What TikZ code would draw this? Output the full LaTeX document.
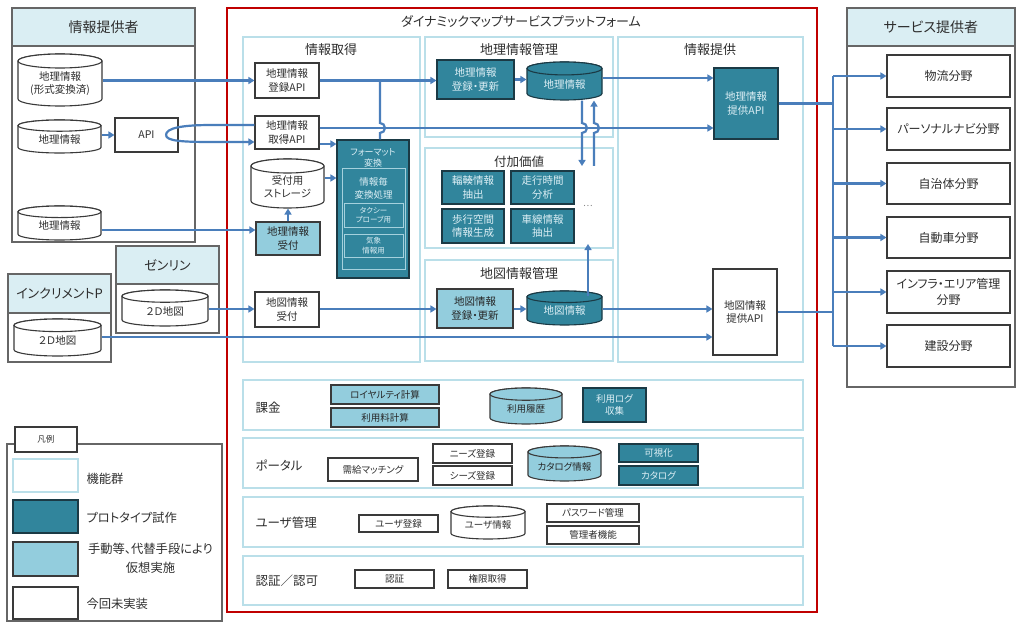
\documentclass[tikz,border=0pt]{standalone}
\usepackage{fontspec}
\setmainfont{Noto Sans CJK JP}[RawFeature=+palt]
\usetikzlibrary{arrows.meta,calc}
\definecolor{cdark}{HTML}{31859C}
\definecolor{clight}{HTML}{93CDDD}
\definecolor{cpanel}{HTML}{BADFE9}
\definecolor{chead}{HTML}{DAEEF3}
\definecolor{cline}{HTML}{4A7EBB}
\definecolor{cred}{HTML}{C00000}
\definecolor{cborder}{HTML}{3A3A3A}
\definecolor{cdborder}{HTML}{1B3A45}
\definecolor{ctxt}{HTML}{2E2E2E}
\definecolor{cdtxt}{HTML}{DDEFF5}
\newcommand\mybox[7]{\node[#6, minimum width={(#4-#2)*1pt}, minimum height={(#5-#3)*1pt}, inner sep=0pt] (#1) at ({(#2+#4)/2},{(#3+#5)/2}) {#7};}
\newcommand\mycyl[7]{%
 \pgfmathsetmacro\cylcx{(#2+#4)/2}%
 \pgfmathsetmacro\cylrx{(#4-#2)/2}%
 \pgfmathsetmacro\cylry{min(7,(#5-#3)*0.17)}%
 \pgfmathsetmacro\cylta{#3+\cylry}%
 \pgfmathsetmacro\cylbb{#5-\cylry}%
 \path[#6] (#2,\cylta) -- (#2,\cylbb) arc[start angle=180,end angle=360,x radius=\cylrx pt,y radius=\cylry pt] -- (#4,\cylta) arc[start angle=0,end angle=180,x radius=\cylrx pt,y radius=\cylry pt] -- cycle;
 \path[#6] (\cylcx,\cylta) ellipse[x radius=\cylrx pt,y radius=\cylry pt];
 \node[#6, draw=none, fill=none, minimum width={(#4-#2)*1pt}, minimum height={(#5-\cylta)*1pt}, inner sep=0pt] (#1) at (\cylcx,{(\cylta+#5)/2}) {#7};}
\begin{document}
\begin{tikzpicture}[x=1pt,y=-1pt,
 wbox/.style={draw=cborder, line width=1.1pt, fill=white, text=ctxt, align=center, font=\fontsize{10.5}{13.5}\selectfont},
 dbox/.style={wbox, fill=cdark, draw=cdborder, text=cdtxt},
 lbox/.style={wbox, fill=clight, text=black!85},
 sbox/.style={font=\fontsize{9.5}{12}\selectfont},
 svc/.style={wbox, font=\fontsize{12}{15.5}\selectfont},
 inbox/.style={draw=cpanel!85!cdark, line width=1pt, fill=none, text=cdtxt, align=center},
 panel/.style={draw=cpanel, line width=2.4pt},
 grp/.style={draw=black!60, line width=1.1pt, fill=white},
 ghead/.style={draw=black!60, line width=1.1pt, fill=chead},
 gtitle/.style={text=ctxt, font=\fontsize{14}{16}\selectfont},
 ptitle/.style={text=ctxt, font=\fontsize{13}{15}\selectfont},
 blabel/.style={text=ctxt, anchor=west, font=\fontsize{12.5}{15}\selectfont},
 ltext/.style={text=ctxt, font=\fontsize{12.3}{19}\selectfont, align=center},
 conn/.style={draw=cline, line width=2.2pt, -{Triangle[length=6pt,width=7pt]}},
 wire/.style={draw=cline, line width=2.2pt}]
\useasboundingbox (0,0) rectangle (1018,623);
\fill[white] (0,0) rectangle (1018,623);

% ---------- left: information providers ----------
\draw[grp] (12,8) rectangle (195,242);
\draw[ghead] (12,8) rectangle (195,46);
\node[gtitle] (tInfo) at (103.5,27) {情報提供者};
\mycyl{c1}{18}{54}{102}{106}{wbox}{地理情報\\(形式変換済)}
\mycyl{c2}{18}{120}{101}{153}{wbox}{地理情報}
\mybox{api}{115}{118}{178}{152}{wbox}{API}
\mycyl{c3}{18}{206}{101}{240}{wbox}{地理情報}

\draw[grp] (116,246) rectangle (219,333);
\draw[ghead] (116,246) rectangle (219,284);
\node[ptitle] (tZen) at (167.5,265) {ゼンリン};
\mycyl{cz}{122}{290}{208}{326}{wbox}{２Ｄ地図}

\draw[grp] (8,274) rectangle (111,362);
\draw[ghead] (8,274) rectangle (111,313);
\node[ptitle] (tInc) at (59.5,293.5) {インクリメントP};
\mycyl{ci}{14}{319}{101}{356}{wbox}{２Ｄ地図}

% ---------- platform ----------
\draw[cred, line width=2.6pt] (227,8) rectangle (817,612);
\node[ptitle] (tPf) at (521,21) {ダイナミックマップサービスプラットフォーム};

\draw[panel] (243,37) rectangle (420,362);
\draw[panel] (425,37) rectangle (613,137);
\draw[panel] (425,148) rectangle (613,248);
\draw[panel] (425,260) rectangle (613,361);
\draw[panel] (618,37) rectangle (803,362);
\node[ptitle] (tGet) at (331,50) {情報取得};
\node[ptitle] (tGeo) at (519,50) {地理情報管理};
\node[ptitle, font=\fontsize{12.5}{15}\selectfont] (tVal) at (519,162) {付加価値};
\node[ptitle] (tMap) at (519,274) {地図情報管理};
\node[ptitle] (tOut) at (710,50) {情報提供};

% information acquisition
\mybox{rapi}{255}{63}{319}{98}{wbox}{地理情報\\登録API}
\mybox{tapi}{255}{116}{319}{149}{wbox}{地理情報\\取得API}
\mycyl{stor}{251}{159}{324}{208}{wbox}{受付用\\ストレージ}
\mybox{uk}{256}{222}{320}{255}{lbox}{地理情報\\受付}
\mybox{fmt}{337}{140}{409}{278}{dbox}{}
\node[text=cdtxt, align=center, font=\fontsize{9}{10.5}\selectfont] (fmtT) at (373,158) {フォーマット\\変換};
\mybox{fmtIn}{342}{169}{405}{269}{inbox}{}
\node[text=cdtxt, align=center, font=\fontsize{9.5}{13}\selectfont] (fmtInT) at (373.5,188.5) {情報毎\\変換処理};
\mybox{fs1}{344}{204}{403}{227}{inbox, font=\fontsize{7.5}{9.5}\selectfont}{タクシー\\プローブ用}
\mybox{fs2}{344}{234}{403}{257}{inbox, font=\fontsize{7.5}{9.5}\selectfont}{気象\\情報用}
\mybox{mk}{255}{292}{319}{327}{wbox}{地図情報\\受付}

% geo info management
\mybox{gru}{437}{60}{514}{99}{dbox}{地理情報\\登録・更新}
\mycyl{gdb}{527}{62}{602}{100}{dbox}{地理情報}

% added value
\mybox{v1}{442}{171}{504}{204}{dbox}{輻輳情報\\抽出}
\mybox{v2}{511}{171}{574}{204}{dbox}{走行時間\\分析}
\mybox{v3}{442}{209}{504}{243}{dbox}{歩行空間\\情報生成}
\mybox{v4}{511}{209}{574}{243}{dbox}{車線情報\\抽出}
\node[text=black!50, font=\fontsize{9}{10}\selectfont] (vdots) at (588,206) {…};

% map info management
\mybox{mru}{437}{289}{513}{328}{lbox}{地図情報\\登録・更新}
\mycyl{mdb}{527}{291}{602}{325}{dbox}{地図情報}

% provision
\mybox{papi}{714}{68}{778}{139}{dbox}{地理情報\\提供API}
\mybox{mapi}{713}{269}{777}{355}{wbox}{地図情報\\提供API}

% bottom panels
\draw[panel] (243,380) rectangle (803,430);
\draw[panel] (243,438) rectangle (803,488);
\draw[panel] (243,497) rectangle (803,547);
\draw[panel] (243,556) rectangle (803,605);
\node[blabel] (lKakin) at (252,408) {課金};
\node[blabel] (lPortal) at (252,465) {ポータル};
\node[blabel] (lUser) at (252,523) {ユーザ管理};
\node[blabel] (lAuth) at (252,581) {認証／認可};

\mybox{b1}{331}{385}{439}{404}{lbox,sbox}{ロイヤルティ計算}
\mybox{b2}{331}{408}{439}{427}{lbox,sbox}{利用料計算}
\mycyl{b3}{490}{388}{562}{424}{lbox,sbox}{利用履歴}
\mybox{b4}{583}{388}{646}{422}{dbox,sbox}{利用ログ\\収集}

\mybox{p1}{328}{458}{418}{481}{wbox,sbox}{需給マッチング}
\mybox{p2}{433}{444}{512}{463}{wbox,sbox}{ニーズ登録}
\mybox{p3}{433}{466}{512}{485}{wbox,sbox}{シーズ登録}
\mycyl{p4}{528}{446}{601}{481}{lbox,sbox}{カタログ情報}
\mybox{p5}{619}{444}{698}{462}{dbox,sbox}{可視化}
\mybox{p6}{619}{466}{698}{485}{dbox,sbox}{カタログ}

\mybox{u1}{359}{515}{438}{532}{wbox,sbox}{ユーザ登録}
\mycyl{u2}{451}{506}{525}{539}{wbox,sbox}{ユーザ情報}
\mybox{u3}{547}{504}{639}{522}{wbox,sbox}{パスワード管理}
\mybox{u4}{547}{526}{639}{544}{wbox,sbox}{管理者機能}

\mybox{a1}{355}{570}{434}{588}{wbox,sbox}{認証}
\mybox{a2}{448}{570}{527}{588}{wbox,sbox}{権限取得}

% ---------- right: service providers ----------
\draw[grp] (847,8) rectangle (1015,387);
\draw[ghead] (847,8) rectangle (1015,46);
\node[gtitle] (tSvc) at (931,27) {サービス提供者};
\mybox{s1}{887}{55}{1010}{97}{svc}{物流分野}
\mybox{s2}{887}{108}{1010}{150}{svc}{パーソナルナビ分野}
\mybox{s3}{887}{163}{1010}{204}{svc}{自治体分野}
\mybox{s4}{887}{217}{1010}{258}{svc}{自動車分野}
\mybox{s5}{887}{271}{1010}{313}{svc}{インフラ・エリア管理\\分野}
\mybox{s6}{887}{325}{1010}{367}{svc}{建設分野}

% ---------- legend ----------
\draw[grp] (7,444) rectangle (222,621);
\mybox{lgT}{15}{427}{77}{452}{wbox, font=\fontsize{8.5}{10}\selectfont}{凡例}
\mybox{lg1}{13}{459}{78}{492}{panel, fill=white}{}
\mybox{lg2}{13}{500}{78}{533}{dbox}{}
\mybox{lg3}{13}{542}{78}{576}{lbox}{}
\mybox{lg4}{13}{587}{78}{619}{wbox}{}
\node[ltext, anchor=west] (lt1) at (83,479) {機能群};
\node[ltext, anchor=west] (lt2) at (83,518) {プロトタイプ試作};
\node[ltext] (lt3) at (150.5,558) {手動等、代替手段により\\仮想実施};
\node[ltext, anchor=west] (lt4) at (83,604) {今回未実装};

% ---------- connectors ----------
\coordinate (loopL) at (166,135);
\coordinate (tx) at (833,0);
\draw[conn] (c1.east |- rapi.west) -- (rapi.west);
\draw[conn] (c2.east |- api.west) -- (api.west);
\draw[wire] (tapi.west |- 0,125) -- (212,125) .. controls (182,125) and (166,128) .. (loopL);
\draw[conn] (loopL) .. controls (166,141) and (182,142) .. (212,142) -- (tapi.west |- 0,142);
\draw[conn] (tapi.east |- 0,144) -- (fmt.west |- 0,144);
\draw[conn] (tapi.east |- 0,128) -- (papi.west |- 0,128);
\draw[conn] (rapi.east) -- (rapi.east -| gru.west);
\draw[wire] (rapi.east -| 380,0) -- (380,123) arc[start angle=90,end angle=-90,radius=5pt] -- (fmt.north -| 380,0);
\draw[conn] (stor.east |- 0,178) -- (fmt.west |- 0,178);
\draw[conn] (uk.north) -- (stor.south -| uk.north);
\draw[conn] (c3.east |- 0,230) -- (uk.west |- 0,230);
\draw[conn] (gru.east) -- (gru.east -| gdb.west);
\draw[conn] (gdb.east |- 0,78) -- (papi.west |- 0,78);
\draw[conn] (gdb.south -| 582,0) -- (582,123) arc[start angle=90,end angle=-90,radius=5pt] -- (582,166);
\draw[conn] (594,166) -- (594,133) arc[start angle=-90,end angle=90,radius=5pt] -- (gdb.south -| 594,0);
\draw[conn] (mdb.north -| 588,0) -- (588,244);
\draw[conn] (cz.east |- 0,309) -- (mk.west |- 0,309);
\draw[conn] (mk.east |- 0,309) -- (mru.west |- 0,309);
\draw[conn] (mru.east |- 0,309) -- (mdb.west |- 0,309);
\draw[conn] (mdb.east |- 0,309) -- (mapi.west |- 0,309);
\draw[conn] (ci.east |- 0,337) -- (mapi.west |- 0,337);
\draw[wire] (papi.east) -- (papi.east -| tx);
\draw[wire] (mapi.east) -- (mapi.east -| tx);
\draw[wire] (s1.west -| tx) -- (s6.west -| tx);
\foreach \s in {s1,s2,s3,s4,s5,s6} \draw[conn] (\s.west -| tx) -- (\s.west);
\end{tikzpicture}
\end{document}
